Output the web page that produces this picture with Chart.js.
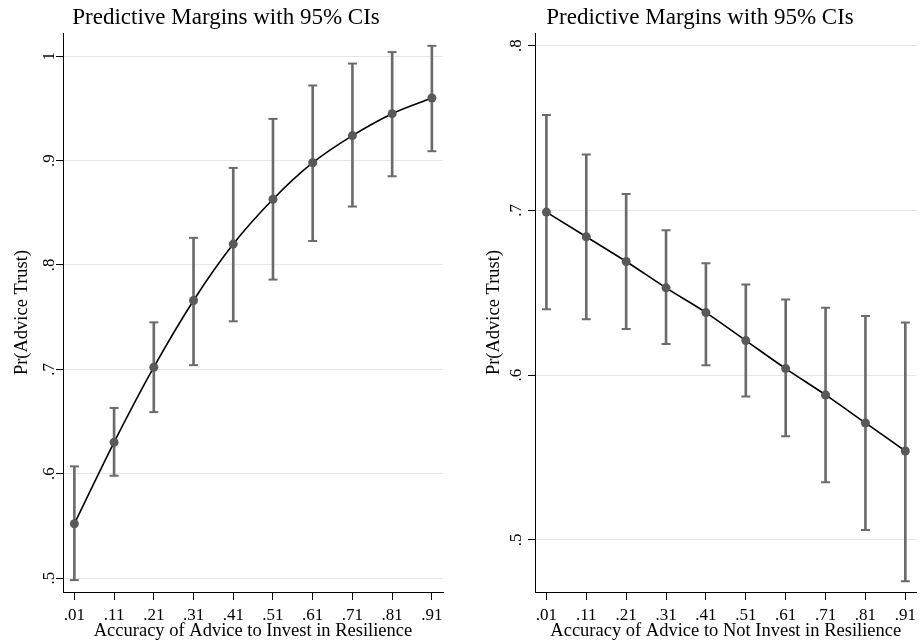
<!DOCTYPE html>
<html lang="en">
  <head>
    <meta charset="UTF-8" />
    <title>Predictive Margins</title>
    <script src="https://cdn.jsdelivr.net/npm/chart.js@4/dist/chart.umd.min.js"></script>
    <style>
      body { margin: 0; background: #fff; }
      .panel { position: absolute; top: 0; height: 644px; }
      #leftBox { left: 0; width: 452px; }
      #rightBox { left: 470px; width: 453px; }
    </style>
  </head>
  <body>
    <div class="panel" id="leftBox"><canvas id="leftChart"></canvas></div>
    <div class="panel" id="rightBox"><canvas id="rightChart"></canvas></div>
    <script>
      // accuracy levels on the x axis
      const xVals = [0.01, 0.11, 0.21, 0.31, 0.41, 0.51, 0.61, 0.71, 0.81, 0.91];
      const xLabels = [".01", ".11", ".21", ".31", ".41", ".51", ".61", ".71", ".81", ".91"];

      // left panel: advice to invest
      const investMargin = [0.552, 0.630, 0.702, 0.766, 0.820, 0.863, 0.898, 0.924, 0.945, 0.960];
      const investLower = [0.498, 0.598, 0.659, 0.704, 0.746, 0.786, 0.823, 0.856, 0.885, 0.909];
      const investUpper = [0.607, 0.663, 0.745, 0.826, 0.893, 0.940, 0.972, 0.993, 1.004, 1.010];
      const investYTicks = [0.5, 0.6, 0.7, 0.8, 0.9, 1];
      const investYLabels = [".5", ".6", ".7", ".8", ".9", "1"];

      // right panel: advice to not invest
      const notInvestMargin = [0.699, 0.684, 0.669, 0.653, 0.638, 0.621, 0.604, 0.588, 0.571, 0.554];
      const notInvestLower = [0.640, 0.634, 0.628, 0.619, 0.606, 0.587, 0.563, 0.535, 0.506, 0.475];
      const notInvestUpper = [0.758, 0.734, 0.710, 0.688, 0.668, 0.655, 0.646, 0.641, 0.636, 0.632];
      const notInvestYTicks = [0.5, 0.6, 0.7, 0.8];
      const notInvestYLabels = [".5", ".6", ".7", ".8"];

      const FONT = "'Liberation Serif', 'Times New Roman', serif";
      const CI_COLOR = "#6b6b6b";
      const DOT_COLOR = "#595959";

      function makeChart(id, cfg) {
        const ctx = document.getElementById(id).getContext("2d");
        const linePts = xVals.map((x, i) => ({ x: x, y: cfg.margin[i] }));
        const barPts = xVals.map((x, i) => ({ x: x, y: [cfg.lower[i], cfg.upper[i]] }));
        const capPts = xVals
          .map((x, i) => ({ x: x, y: cfg.lower[i] }))
          .concat(xVals.map((x, i) => ({ x: x, y: cfg.upper[i] })));

        return new Chart(ctx, {
          type: "line",
          data: {
            datasets: [
              {
                type: "line",
                data: linePts,
                borderColor: "#000",
                borderWidth: 1.6,
                cubicInterpolationMode: "monotone",
                pointRadius: 4.5,
                pointBackgroundColor: DOT_COLOR,
                pointBorderColor: DOT_COLOR,
                pointBorderWidth: 0,
                order: 0,
              },
              {
                type: "bar",
                data: barPts,
                backgroundColor: CI_COLOR,
                borderWidth: 0,
                barThickness: 2,
                order: 2,
              },
              {
                type: "line",
                data: capPts,
                showLine: false,
                pointStyle: "line",
                pointRadius: 4.5,
                pointBorderWidth: 2,
                pointBorderColor: CI_COLOR,
                order: 1,
              },
            ],
          },
          options: {
            responsive: true,
            maintainAspectRatio: false,
            animation: false,
            events: [],
            layout: { padding: { left: cfg.padLeft, right: cfg.padRight, top: 0, bottom: 0 } },
            plugins: {
              legend: { display: false },
              tooltip: { enabled: false },
              title: {
                display: true,
                text: "Predictive Margins with 95% CIs",
                color: "#000",
                font: { family: FONT, size: 23, weight: "normal" },
                padding: { top: 4, bottom: 1.4 },
              },
            },
            scales: {
              x: {
                type: "linear",
                offset: false,
                min: -0.0186,
                max: 0.938,
                afterBuildTicks: (s) => {
                  s.ticks = xVals.map((v) => ({ value: v }));
                },
                afterFit: (s) => {
                  s.height = 52;
                },
                ticks: {
                  autoSkip: false,
                  minRotation: 0,
                  maxRotation: 0,
                  padding: 5,
                  color: "#000",
                  font: { family: FONT, size: 17 },
                  callback: (v, i) => xLabels[i],
                },
                grid: { offset: false, drawOnChartArea: false, tickLength: 8, tickColor: "#000" },
                border: { color: "#000", width: 1 },
                title: {
                  display: true,
                  text: cfg.xTitle,
                  color: "#000",
                  font: { family: FONT, size: 18.5 },
                  padding: { top: 0, bottom: 2 },
                },
              },
              y: {
                type: "linear",
                min: cfg.yMin,
                max: cfg.yMax,
                afterBuildTicks: (s) => {
                  s.ticks = cfg.yTicks.map((v) => ({ value: v }));
                },
                afterFit: (s) => {
                  s.width = cfg.yWidth;
                },
                ticks: {
                  minRotation: 90,
                  maxRotation: 90,
                  crossAlign: "center",
                  padding: cfg.tickPad,
                  color: "#000",
                  font: { family: FONT, size: 17 },
                  callback: (v, i) => cfg.yLabels[i],
                },
                grid: { color: "#e6e6e6", lineWidth: 1, tickLength: 7, tickColor: "#000" },
                border: { color: "#000", width: 1 },
                title: {
                  display: true,
                  text: "Pr(Advice Trust)",
                  color: "#000",
                  font: { family: FONT, size: 18.5 },
                  padding: { top: cfg.titlePad, bottom: 0 },
                },
              },
            },
          },
        });
      }

      makeChart("leftChart", {
        margin: investMargin,
        lower: investLower,
        upper: investUpper,
        yTicks: investYTicks,
        yLabels: investYLabels,
        yMin: 0.4866,
        yMax: 1.0223,
        padLeft: 9,
        yWidth: 54,
        padRight: 9,
        tickPad: 0,
        titlePad: 2,
        xTitle: "Accuracy of Advice to Invest in Resilience",
      });

      makeChart("rightChart", {
        margin: notInvestMargin,
        lower: notInvestLower,
        upper: notInvestUpper,
        yTicks: notInvestYTicks,
        yLabels: notInvestYLabels,
        yMin: 0.4684,
        yMax: 0.8077,
        padLeft: 13,
        yWidth: 52,
        padRight: 6,
        tickPad: 5,
        titlePad: 0,
        xTitle: "Accuracy of Advice to Not Invest in Resilience",
      });
    </script>
  </body>
</html>
